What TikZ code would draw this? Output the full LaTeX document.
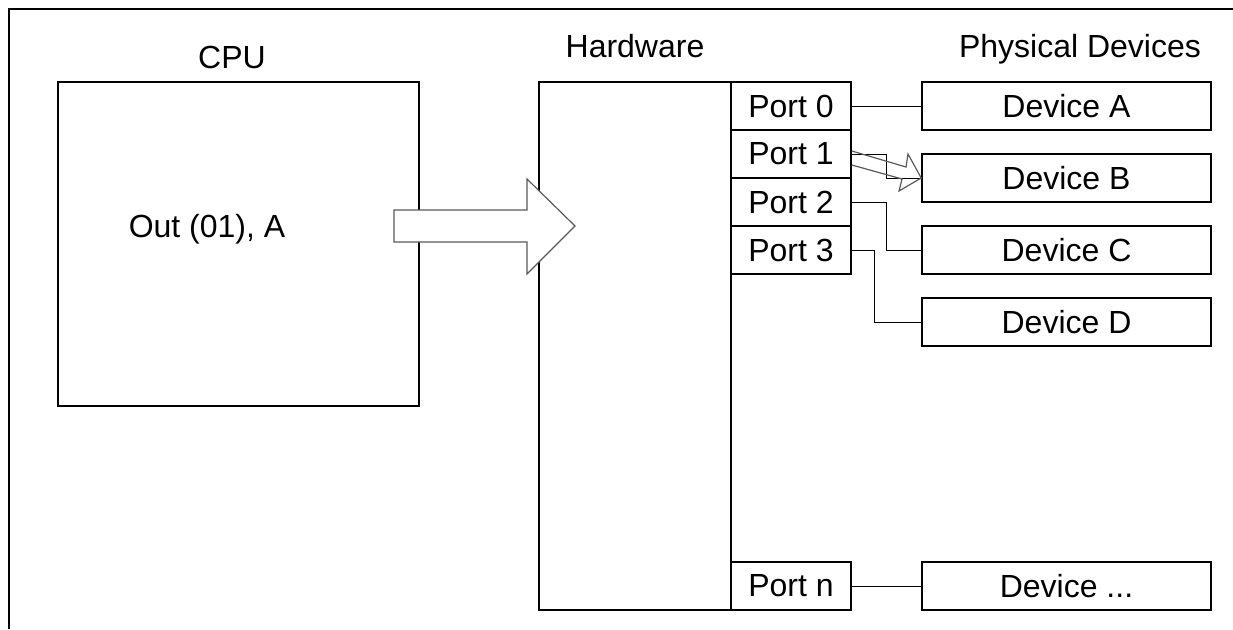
\documentclass[tikz,border=0pt]{standalone}
\usepackage{fontspec}
\setmainfont{Liberation Sans}
\begin{document}
\begin{tikzpicture}[x=1pt,y=-1pt,
  every node/.style={font=\fontsize{32}{38}\selectfont,inner sep=0pt},
  unit/.style={draw=black,line width=2pt},
  port/.style={draw=black,line width=1.6pt,minimum width=120pt,minimum height=48pt},
  dev/.style={draw=black,line width=1.6pt,minimum width=289pt,minimum height=48pt},
  wire/.style={line width=1pt},
  hollow/.style={draw=black!65,line width=1.2pt,line join=miter}]
  \useasboundingbox (0,0) rectangle (1233,629);

  % Rahmen
  \draw[line width=2.5pt] (9,629) -- (9,9) -- (1233,9);

  % CPU
  \node[unit,minimum width=361pt,minimum height=324pt] (cpu) at (238.5,244) {};
  \node[anchor=base] (cpulbl) at (232,68) {CPU};
  \node[anchor=base] (cpucode) at (207,237) {Out (01), A};

  % Hardware mit Ports
  \node[unit,minimum width=192pt,minimum height=528pt] (hw) at (635,346) {};
  \node[anchor=base] (hwlbl) at (635,57) {Hardware};
  \node[port] (port0) at (791,106) {Port 0};
  \node[port] (port1) at (791,154) {Port 1};
  \node[port] (port2) at (791,202) {Port 2};
  \node[port] (port3) at (791,250) {Port 3};
  \node[port] (portn) at (791,586) {Port n};

  % Geraete
  \node[anchor=base] (devlbl) at (1080,57) {Physical Devices};
  \node[dev] (devA) at (1066.5,106) {Device A};
  \node[dev] (devB) at (1066.5,178) {Device B};
  \node[dev] (devC) at (1066.5,250) {Device C};
  \node[dev] (devD) at (1066.5,322) {Device D};
  \node[dev] (devn) at (1066.5,586) {Device ...};

  % Leitungen
  \foreach \from/\to in {port0/devA, portn/devn}
    \draw[wire] (\from.east) -- (\to.west);
  \foreach \from/\to/\dx in {port1/devB/35, port2/devC/35, port3/devD/23}
    \draw[wire] (\from.east) -- ++(\dx,0) |- (\to.west);

  % Blockpfeile
  \draw[hollow,fill=white] (394,210) -- (527,210) -- (527,179) -- (575,226)
    -- (527,274) -- (527,242) -- (394,242) -- cycle;
  \draw[hollow] (port1.east |- 0,151) -- (906,167) -- (908,154) -- (devB.west)
    -- (899,191) -- (902,179) -- (port1.east |- 0,165);
\end{tikzpicture}
\end{document}
